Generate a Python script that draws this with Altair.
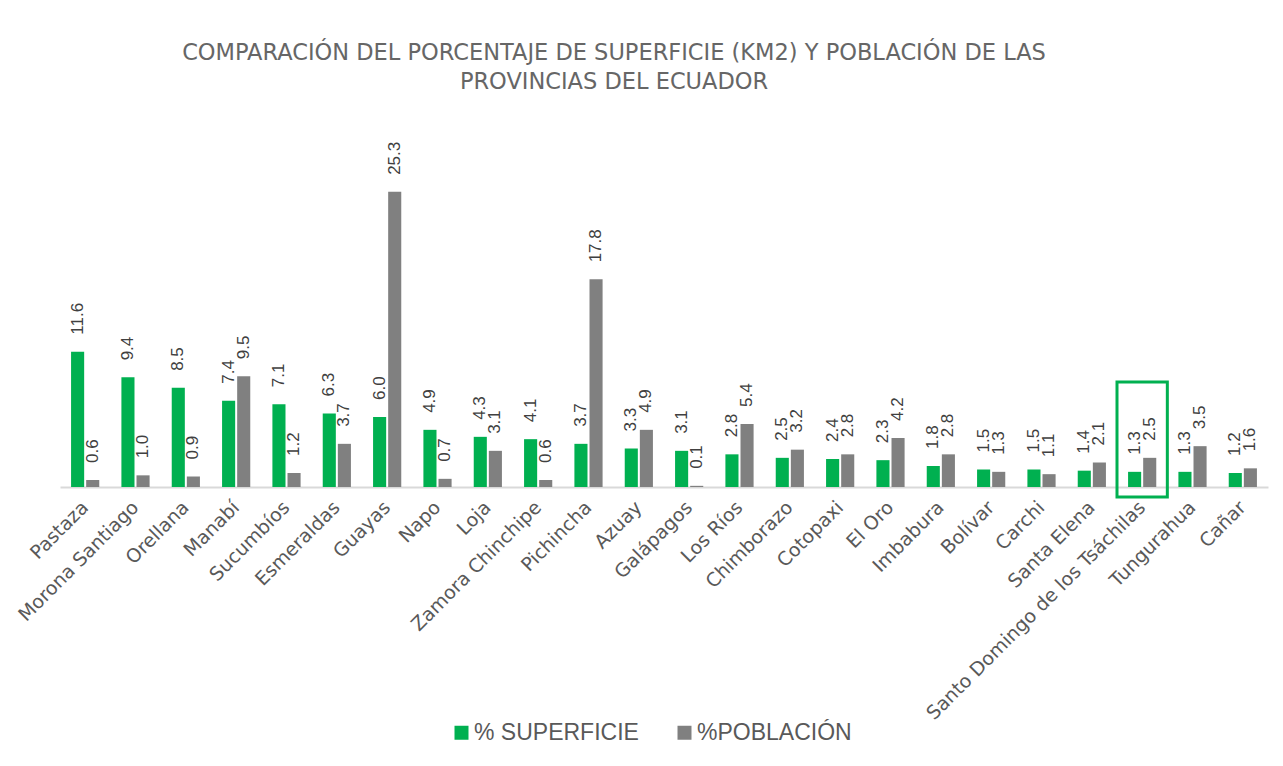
import altair as alt
import pandas as pd

provincias = [
    "Pastaza", "Morona Santiago", "Orellana", "Manabí", "Sucumbíos", "Esmeraldas",
    "Guayas", "Napo", "Loja", "Zamora Chinchipe", "Pichincha", "Azuay", "Galápagos",
    "Los Ríos", "Chimborazo", "Cotopaxi", "El Oro", "Imbabura", "Bolívar", "Carchi",
    "Santa Elena", "Santo Domingo de los Tsáchilas", "Tungurahua", "Cañar",
]
superficie = [11.6, 9.4, 8.5, 7.4, 7.1, 6.3, 6.0, 4.9, 4.3, 4.1, 3.7, 3.3, 3.1,
              2.8, 2.5, 2.4, 2.3, 1.8, 1.5, 1.5, 1.4, 1.3, 1.3, 1.2]
poblacion = [0.6, 1.0, 0.9, 9.5, 1.2, 3.7, 25.3, 0.7, 3.1, 0.6, 17.8, 4.9, 0.1,
             5.4, 3.2, 2.8, 4.2, 2.8, 1.3, 1.1, 2.1, 2.5, 3.5, 1.6]
series = ["% SUPERFICIE", "%POBLACIÓN"]
colores = ["#00B050", "#808080"]

# highlighted province box (in data units)
destacado = ["Santo Domingo de los Tsáchilas"]
destacado_top = [9.0]
destacado_bottom = [-0.85]

titulo = [
    "COMPARACIÓN DEL PORCENTAJE DE SUPERFICIE (KM2) Y POBLACIÓN DE LAS",
    "PROVINCIAS DEL ECUADOR",
]

rows = []
for p, s, v in zip(provincias, superficie, poblacion):
    rows.append({"provincia": p, "serie": series[0], "valor": s})
    rows.append({"provincia": p, "serie": series[1], "valor": v})
df = pd.DataFrame(rows)

box_df = pd.DataFrame({"provincia": destacado, "top": destacado_top, "bottom": destacado_bottom})

x_enc = alt.X("provincia:N", sort=provincias,
              scale=alt.Scale(paddingInner=0, paddingOuter=0),
              axis=alt.Axis(title=None, labelAngle=-45, labelAlign="right", labelBaseline="middle",
                            labelFont="DejaVu Sans", labelFontSize=19, labelColor="#595959",
                            ticks=False, domainColor="#D9D9D9", domainWidth=2, labelPadding=17,
                            labelLimit=400))
y_scale = alt.Scale(domain=[0, 30], clamp=False)
xoff = alt.XOffset("serie:N", sort=series, scale=alt.Scale(paddingInner=0.133, paddingOuter=0.733))

bars = alt.Chart(df).mark_bar().encode(
    x=x_enc,
    xOffset=xoff,
    y=alt.Y("valor:Q", scale=y_scale, axis=None),
    color=alt.Color("serie:N", sort=series,
                    scale=alt.Scale(domain=series, range=colores),
                    legend=alt.Legend(title=None, orient="none", legendX=390, legendY=584,
                                      direction="horizontal", symbolType="square", symbolSize=196,
                                      symbolStrokeWidth=0, labelFont="Liberation Sans",
                                      labelFontSize=23, labelColor="#595959", columnPadding=34,
                                      labelOffset=1, labelLimit=400)),
)

labels = alt.Chart(df).mark_text(angle=270, align="left", baseline="middle", dx=17,
                                 font="Liberation Sans", fontSize=17, color="#404040").encode(
    x=alt.X("provincia:N", sort=provincias),
    xOffset=xoff,
    y=alt.Y("valor:Q", scale=y_scale),
    text=alt.Text("valor:Q", format=".1f"),
)

box = alt.Chart(box_df).mark_rect(filled=False, stroke="#00B050", strokeWidth=3).encode(
    x=alt.X("provincia:N", sort=provincias),
    y=alt.Y("top:Q", scale=y_scale),
    y2="bottom:Q",
)

chart = alt.layer(bars, labels, box).properties(
    width=1208,
    height=350,
    background="white",
    title=alt.Title(text=titulo, font="DejaVu Sans", fontSize=22.5, fontWeight="normal",
                    color="#666666", anchor="middle", dx=-50, offset=44, lineHeight=29),
    autosize=alt.AutoSizeParams(type="none"),
    padding={"left": 52, "top": 129, "right": 7, "bottom": 271},
).configure_view(strokeWidth=0, stroke=None)

chart.save("out.html", embed_options={"renderer": "svg", "actions": False})
